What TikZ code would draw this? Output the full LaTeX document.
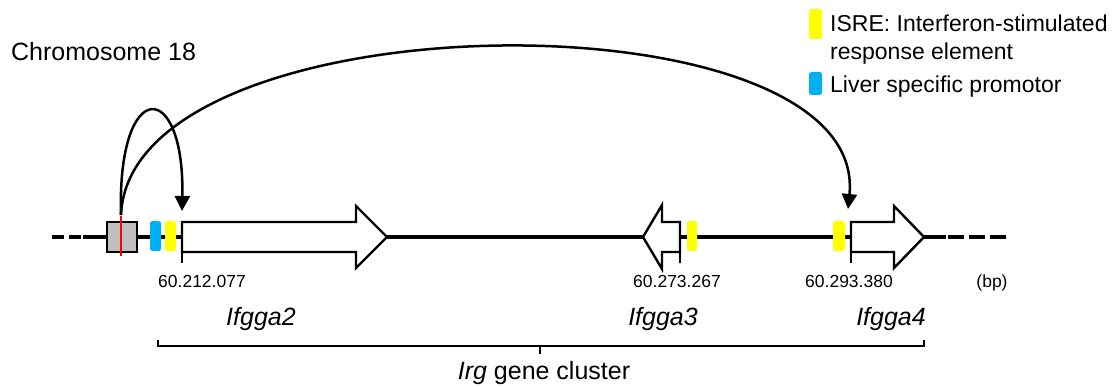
\documentclass[tikz,border=0pt]{standalone}
\usepackage{fontspec}
\setmainfont{Liberation Sans}
\usetikzlibrary{arrows.meta}
\definecolor{isreyellow}{RGB}{255,255,0}
\definecolor{liverblue}{RGB}{0,176,240}
\definecolor{enhgrey}{RGB}{191,191,191}
\begin{document}
\begin{tikzpicture}[x=1pt,y=-1pt,
  chrom/.style={line width=3.4pt},
  genebox/.style={draw=black,line width=2.4pt,fill=white,line join=miter},
  isre/.style={fill=isreyellow,rounded corners=2.5pt},
  liver/.style={fill=liverblue,rounded corners=2.5pt},
  tickmark/.style={line width=1.2pt},
  link/.style={line width=2.5pt,-{Triangle[length=15pt,width=15pt]}},
  coord/.style={inner sep=0pt,anchor=base,font=\fontsize{17.5}{20}\selectfont},
  genename/.style={inner sep=0pt,anchor=base,font=\fontsize{25}{30}\selectfont\itshape},
  legendtext/.style={inner sep=0pt,anchor=base west,font=\fontsize{23}{28}\selectfont},
]
\useasboundingbox (0,0) rectangle (1117,387);

% chromosome backbone
\draw[chrom,dash pattern=on 12pt off 5pt] (52,237) -- (83,237);
\draw[chrom] (83,237) -- (946,237);
\draw[chrom,dash pattern=on 15.5pt off 5.5pt] (948,237) -- (1008,237);

% enhancer box with the cut site
\draw[line width=2.4pt,fill=enhgrey] (107,222) rectangle (137,252);
\draw[red,line width=2pt] (121,216) -- (121,256);
\coordinate (cut) at (121,215);

% regulatory elements
\fill[liver] (150,221) rectangle (161,251);
\fill[isre] (165,221) rectangle (176,251);
\fill[isre] (687,221) rectangle (697,251);
\fill[isre] (833,221) rectangle (845,251);

% genes
\draw[genebox] (182,222) -- (356,222) -- (356,206) -- (387,237) -- (356,268)
  -- (356,252) -- (182,252) -- cycle;
\draw[tickmark] (182,252) -- (182,263);
\draw[genebox] (680,222) -- (662,222) -- (662,205) -- (643,237) -- (662,269)
  -- (662,252) -- (680,252) -- cycle;
\draw[tickmark] (680,252) -- (680,263);
\draw[genebox] (851,222) -- (894,222) -- (894,206) -- (924,237) -- (894,268)
  -- (894,252) -- (851,252) -- cycle;
\draw[tickmark] (851,252) -- (851,263);

\coordinate (g2in) at (182,211);
\coordinate (g4in) at (848,209);

% enhancer contacts
\draw[link] (cut) .. controls (117,76) and (185,78) .. (g2in);
\draw[link] (cut) .. controls (130,-5) and (870,-10) .. (g4in);

% positions
\node[coord] (p2) at (202,288) {60.212.077};
\node[coord] (p3) at (677,288) {60.273.267};
\node[coord] (p4) at (849,288) {60.293.380};
\node[coord] (bp) at (992,288) {(bp)};

% gene names
\node[genename] (n2) at (261,326) {Ifgga2};
\node[genename] (n3) at (663,326) {Ifgga3};
\node[genename] (n4) at (891,326) {Ifgga4};

% cluster bracket
\draw[line width=2.2pt] (158,340) -- (158,346) -- (924,346) -- (924,340);
\draw[line width=2pt] (540,346) -- (540,354);
\node[inner sep=0pt,anchor=base,font=\fontsize{25}{30}\selectfont] (cl) at (544,380)
  {\textit{Irg} gene cluster};

% title
\node[inner sep=0pt,anchor=base west,font=\fontsize{25}{30}\selectfont] (title) at (11,61)
  {Chromosome 18};

% legend
\fill[isre] (809,9) rectangle (822,39);
\fill[liver] (809,72) rectangle (822,95);
\node[legendtext] (l1) at (830,32) {ISRE: Interferon-stimulated};
\node[legendtext] (l2) at (830,60) {response element};
\node[legendtext] (l3) at (830,93) {Liver specific promotor};
\end{tikzpicture}
\end{document}
